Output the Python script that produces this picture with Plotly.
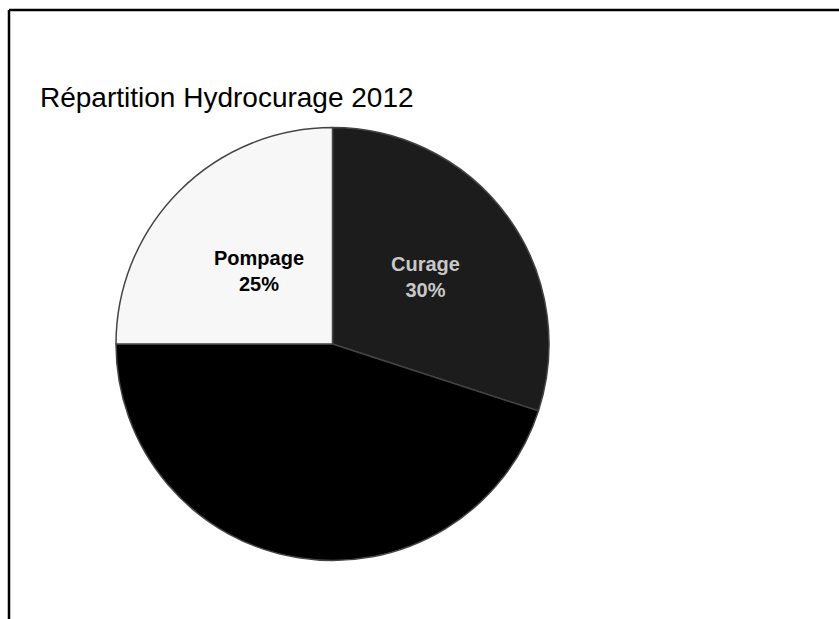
import math
import plotly.graph_objects as go

W, H = 839, 619

categories = ["Curage", "Autres", "Pompage"]
values = [30, 45, 25]
slice_colors = ["#1c1c1c", "#000000", "#f7f7f7"]
text_colors = ["#c8c8c8", "#000000", "#000000"]
show_label = [True, False, True]
label_radius = [0.53, 0.5, 0.48]   # fraction of pie radius where each label sits
title_text = "Répartition Hydrocurage 2012"

FONT = "Liberation Sans, Arial, sans-serif"

# pie geometry in pixels
cx0, cx1 = 116, 549
cy0, cy1 = 123, 565

fig = go.Figure(go.Pie(
    labels=categories,
    values=values,
    sort=False,
    direction="clockwise",
    rotation=0,
    marker=dict(colors=slice_colors, line=dict(color="#444444", width=1.5)),
    textinfo="none",
    hoverinfo="label+percent",
    showlegend=False,
    domain=dict(x=[cx0 / W, cx1 / W], y=[1 - cy1 / H, 1 - cy0 / H]),
))

# labels placed at each slice's mid-angle (derived from the values)
pcx = (cx0 + cx1) / 2
pcy = (cy0 + cy1) / 2
R = min(cx1 - cx0, cy1 - cy0) / 2
total = sum(values)
annotations = []
cum = 0
for cat, v, col, show, rf in zip(categories, values, text_colors, show_label, label_radius):
    mid = (cum + v / 2) / total * 2 * math.pi
    cum += v
    if not show:
        continue
    px = pcx + rf * R * math.sin(mid)
    py = pcy - rf * R * math.cos(mid)
    annotations.append(dict(
        x=px / W, y=1 - py / H, xref="paper", yref="paper",
        text=f"<b>{cat}<br>{round(v / total * 100)}%</b>",
        showarrow=False, xanchor="center", yanchor="middle",
        font=dict(family=FONT, size=20, color=col),
    ))

fig.update_layout(
    width=W, height=H,
    margin=dict(l=0, r=0, t=0, b=0),
    paper_bgcolor="white",
    plot_bgcolor="white",
    title=dict(
        text=title_text,
        x=40 / W, xanchor="left",
        y=1 - 97 / H, yanchor="middle",
        font=dict(family=FONT, size=28, color="black"),
    ),
    annotations=annotations,
    shapes=[
        dict(type="line", xref="paper", yref="paper",
             x0=9 / W, x1=1, y0=1 - 10 / H, y1=1 - 10 / H,
             line=dict(color="black", width=2.5)),
        dict(type="line", xref="paper", yref="paper",
             x0=9 / W, x1=9 / W, y0=0, y1=1 - 10 / H,
             line=dict(color="black", width=2.5)),
    ],
)

fig.write_html("out.html")
